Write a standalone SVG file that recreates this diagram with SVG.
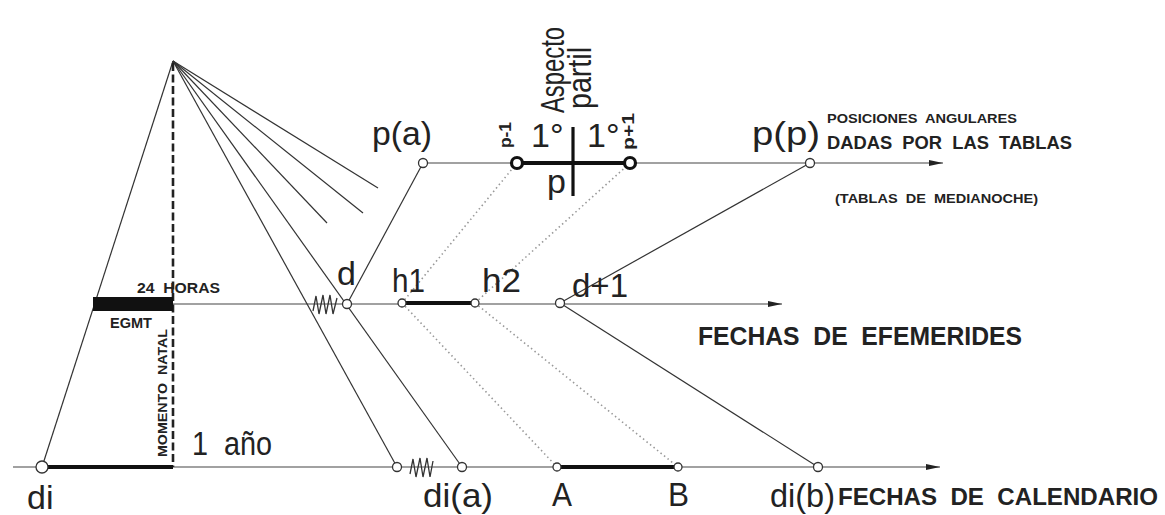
<svg xmlns="http://www.w3.org/2000/svg" width="1165" height="515" viewBox="0 0 1165 515">
<defs>
<marker id="arr" viewBox="0 0 14 6" refX="14" refY="3" markerWidth="14" markerHeight="6" markerUnits="userSpaceOnUse" orient="auto">
<path d="M0,0 L14,3 L0,6 Z" fill="#222"/>
</marker>
<style>
.ln{stroke:#333;stroke-width:1.2;fill:none}
.ax{stroke:#444;stroke-width:1.1;fill:none}
.dot{stroke:#999;stroke-width:1.6;stroke-dasharray:1.5 3;fill:none}
.bar{stroke:#111;stroke-width:4;fill:none}
.dash{stroke:#222;stroke-width:2.6;stroke-dasharray:8 3.5;fill:none}
.zz{stroke:#333;stroke-width:1.3;fill:none}
.c{fill:#fff;stroke:#333;stroke-width:1.3}
.cb{fill:#fff;stroke:#111;stroke-width:3.2}
.big{font-family:"Liberation Sans",Arial,sans-serif;font-size:34px;fill:#222;white-space:pre}
.sm{font-family:"Liberation Sans",Arial,sans-serif;font-weight:bold;fill:#222;white-space:pre}
</style>
</defs>
<rect width="1165" height="515" fill="#fff"/>

<g id="connectors">
<line class="ax" x1="423" y1="163" x2="943" y2="163" marker-end="url(#arr)"/>
<line class="ax" x1="93" y1="304" x2="782" y2="304" marker-end="url(#arr)"/>
<line class="ax" x1="13" y1="467" x2="940" y2="467" marker-end="url(#arr)"/>
<line class="ln" x1="173" y1="61" x2="42" y2="467"/>
<line class="ln" x1="173" y1="61" x2="397" y2="467"/>
<line class="ln" x1="173" y1="61" x2="462" y2="467"/>
<line class="ln" x1="173" y1="61" x2="327" y2="223"/>
<line class="ln" x1="173" y1="61" x2="363" y2="213"/>
<line class="ln" x1="173" y1="61" x2="378" y2="188"/>
<line class="dash" x1="173" y1="63" x2="173" y2="467"/>
<line class="ln" x1="347" y1="304" x2="423" y2="163"/>
<line class="ln" x1="560" y1="303" x2="810" y2="163"/>
<line class="ln" x1="560" y1="303" x2="818" y2="467"/>
<line class="dot" x1="517" y1="163" x2="402" y2="303"/>
<line class="dot" x1="630" y1="163" x2="475" y2="303"/>
<line class="dot" x1="402" y1="303" x2="557" y2="467"/>
<line class="dot" x1="475" y1="303" x2="678" y2="467"/>
<rect x="93" y="297" width="80" height="14" fill="#111"/>
<line class="bar" x1="42" y1="467" x2="173" y2="467"/>
<line class="bar" x1="402" y1="303" x2="475" y2="303"/>
<line class="bar" x1="557" y1="467" x2="678" y2="467"/>
<line class="bar" x1="517" y1="163" x2="630" y2="163"/>
<line stroke="#111" stroke-width="3.2" x1="573" y1="127" x2="573" y2="196"/>
<path class="zz" d="M313,311 L316,296 L319,314 L323,295 L326,314 L330,295 L333,314 L337,298"/>
<path class="zz" d="M410,474 L413,459 L416,477 L420,458 L423,477 L427,458 L430,477 L433,461"/>
</g>

<g id="node-apex-labels">
<text class="sm" x="137" y="293" font-size="14" textLength="83" lengthAdjust="spacingAndGlyphs">24  HORAS</text>
<text class="sm" x="110" y="328" font-size="14" textLength="42" lengthAdjust="spacingAndGlyphs">EGMT</text>
<text class="sm" transform="translate(167,457) rotate(-90)" font-size="13" textLength="128" lengthAdjust="spacingAndGlyphs">MOMENTO  NATAL</text>
</g>

<g id="node-pa">
<circle class="c" cx="423" cy="163" r="4.5"/>
<text class="big" x="372" y="145" textLength="60" lengthAdjust="spacingAndGlyphs">p(a)</text>
</g>

<g id="node-aspecto">
<circle class="cb" cx="517" cy="163" r="5.5"/>
<circle class="cb" cx="630" cy="163" r="5.5"/>
<text class="sm" transform="translate(511,148) rotate(-90)" font-size="16" textLength="26" lengthAdjust="spacingAndGlyphs">p-1</text>
<text class="sm" transform="translate(634,150) rotate(-90)" font-size="16" textLength="37" lengthAdjust="spacingAndGlyphs">p+1</text>
<text class="big" x="531" y="147" font-size="28">1°</text>
<text class="big" x="587" y="147" font-size="28">1°</text>
<text class="big" x="547" y="193">p</text>
<text class="big" transform="translate(564,113) rotate(-90)" font-size="20" textLength="86" lengthAdjust="spacingAndGlyphs">Aspecto</text>
<text class="big" transform="translate(591,109) rotate(-90)" font-size="20" textLength="62" lengthAdjust="spacingAndGlyphs">partil</text>
</g>

<g id="node-pp">
<circle class="c" cx="810" cy="163" r="4.5"/>
<text class="big" x="752" y="145" textLength="68" lengthAdjust="spacingAndGlyphs">p(p)</text>
<text class="sm" x="827" y="123" font-size="13" textLength="190" lengthAdjust="spacingAndGlyphs">POSICIONES  ANGULARES</text>
<text class="sm" x="827" y="149" font-size="19" textLength="245" lengthAdjust="spacingAndGlyphs">DADAS  POR  LAS  TABLAS</text>
<text class="sm" x="835" y="203" font-size="12" textLength="203" lengthAdjust="spacingAndGlyphs">(TABLAS  DE  MEDIANOCHE)</text>
</g>

<g id="node-d">
<circle class="c" cx="347" cy="304" r="4.5"/>
<text class="big" x="337" y="285">d</text>
</g>

<g id="node-h1">
<circle class="c" cx="402" cy="303" r="4"/>
<text class="big" x="392" y="292" textLength="33" lengthAdjust="spacingAndGlyphs">h1</text>
</g>

<g id="node-h2">
<circle class="c" cx="475" cy="303" r="4"/>
<text class="big" x="482" y="292" textLength="39" lengthAdjust="spacingAndGlyphs">h2</text>
</g>

<g id="node-d1">
<circle class="c" cx="560" cy="303" r="4.5"/>
<text class="big" x="572" y="297" textLength="56" lengthAdjust="spacingAndGlyphs">d+1</text>
<text class="sm" x="698" y="345" font-size="25" textLength="324" lengthAdjust="spacingAndGlyphs">FECHAS  DE  EFEMERIDES</text>
</g>

<g id="node-di">
<circle class="c" cx="42" cy="467" r="6"/>
<text class="big" x="27" y="509">di</text>
<text class="big" x="192" y="455" font-size="32" textLength="80" lengthAdjust="spacingAndGlyphs">1  año</text>
</g>

<g id="node-dia">
<circle class="c" cx="397" cy="467" r="4.5"/>
<circle class="c" cx="462" cy="467" r="4.5"/>
<text class="big" x="423" y="507" textLength="70" lengthAdjust="spacingAndGlyphs">di(a)</text>
</g>

<g id="node-A">
<circle class="c" cx="557" cy="467" r="4"/>
<text class="big" x="552" y="506" textLength="20" lengthAdjust="spacingAndGlyphs">A</text>
</g>

<g id="node-B">
<circle class="c" cx="678" cy="467" r="4"/>
<text class="big" x="668" y="506" textLength="21" lengthAdjust="spacingAndGlyphs">B</text>
</g>

<g id="node-dib">
<circle class="c" cx="818" cy="467" r="4.5"/>
<text class="big" x="770" y="507" textLength="65" lengthAdjust="spacingAndGlyphs">di(b)</text>
<text class="sm" x="838" y="505" font-size="23" textLength="320" lengthAdjust="spacingAndGlyphs">FECHAS  DE  CALENDARIO</text>
</g>
</svg>
